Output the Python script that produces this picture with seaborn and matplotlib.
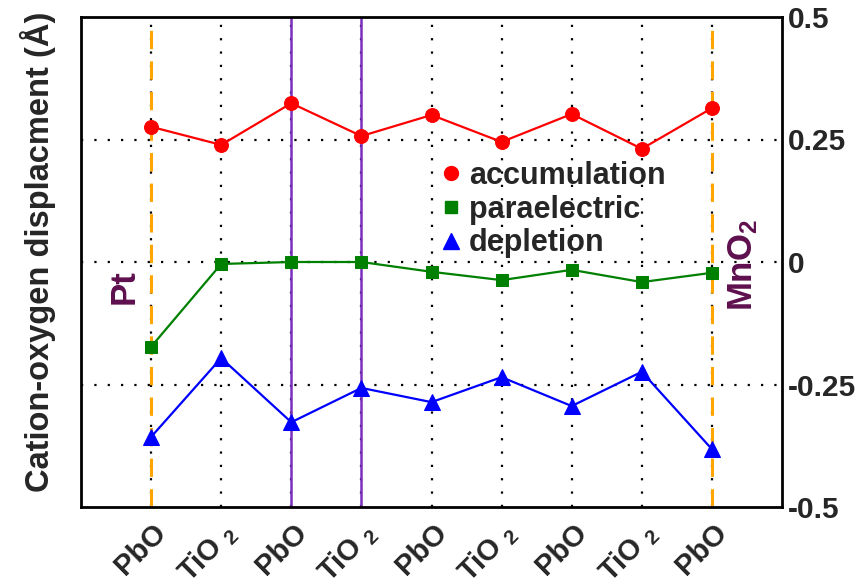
import matplotlib
matplotlib.use("Agg")
import matplotlib.pyplot as plt
import matplotlib.transforms as mtransforms
from matplotlib.lines import Line2D
import seaborn as sns
import pandas as pd

layers = ["PbO", "TiO $_2$", "PbO", "TiO $_2$", "PbO", "TiO $_2$", "PbO", "TiO $_2$", "PbO"]
positions = [1, 2, 3, 4, 5, 6, 7, 8, 9]
accumulation = [0.276, 0.239, 0.324, 0.257, 0.300, 0.245, 0.302, 0.231, 0.314]
paraelectric = [-0.173, -0.004, 0.0, 0.0, -0.020, -0.037, -0.016, -0.041, -0.022]
depletion = [-0.357, -0.196, -0.327, -0.257, -0.286, -0.235, -0.294, -0.224, -0.382]
yticks = [-0.5, -0.25, 0, 0.25, 0.5]
ytick_labels = ["-0.5", "-0.25", "0", "0.25", "0.5"]

sns.set_style("white")
plt.rcParams["font.family"] = ["Liberation Sans", "DejaVu Sans"]
plt.rcParams["font.weight"] = "bold"
plt.rcParams["mathtext.fontset"] = "custom"
plt.rcParams["mathtext.rm"] = "Liberation Sans:bold"
plt.rcParams["mathtext.bf"] = "Liberation Sans:bold"
plt.rcParams["mathtext.default"] = "rm"

fig = plt.figure(figsize=(8.62, 5.86), dpi=100)
ax = fig.add_axes([81 / 862, 1 - 507 / 586, (782 - 81) / 862, (507 - 17) / 586])

# grid lines
for x in positions:
    ax.axvline(x, color="black", lw=1.6, ls=(0, (1, 5)), zorder=1)
    if x in (1, 9):
        ax.axvline(x, color="#FFA500", lw=2.2, ls=(0, (6, 4)), zorder=1.5)
    elif x in (3, 4):
        ax.axvline(x, color="#7B2FBE", lw=1.8, ls="-", zorder=1.5)
for y in [-0.25, 0, 0.25]:
    ax.axhline(y, color="black", lw=1.6, ls=(0, (1, 5)), zorder=1)

series = [
    ("accumulation", accumulation, "#FF0000", "o", 10),
    ("paraelectric", paraelectric, "#008000", "s", 9),
    ("depletion", depletion, "#0000FF", "^", 12),
]
handles = []
for name, vals, col, mk, ms in series:
    df = pd.DataFrame({"pos": positions, "val": vals})
    sns.lineplot(data=df, x="pos", y="val", color=col, marker=mk, markersize=ms,
                 markeredgecolor=col, lw=1.6, ax=ax, zorder=3, legend=False)
    handles.append(Line2D([], [], color=col, marker=mk, ls="none", markersize=ms,
                          markeredgecolor=col, label=name))

ax.set_xlim(0, 10)
ax.set_ylim(-0.5, 0.5)
ax.set_xticks(positions)
ax.set_xticklabels(layers, rotation=45, ha="right", va="center", rotation_mode="anchor",
                   fontsize=21, fontweight="bold")
ax.tick_params(axis="x", length=0, pad=15)
offset = mtransforms.ScaledTranslation(11 / 100, 0, fig.dpi_scale_trans)
for lab in ax.get_xticklabels():
    lab.set_transform(lab.get_transform() + offset)
ax.yaxis.tick_right()
ax.set_yticks(yticks)
ax.set_yticklabels(ytick_labels, fontsize=21.5, fontweight="bold")
ax.tick_params(axis="y", length=0, pad=4)
ax.set_xlabel("")
ax.set_ylabel("Cation-oxygen displacment (Å)", fontsize=23.5, fontweight="bold")
ax.yaxis.set_label_position("left")
ax.yaxis.set_label_coords(-0.035, 0.52)

for s in ax.spines.values():
    s.set_visible(True)
    s.set_color("black")
    s.set_linewidth(2)

ax.text(0.61, -0.05, "Pt", rotation=90, ha="center", va="center", fontsize=25,
        fontweight="bold", color="#5E0F4E")
ax.text(9.45, -0.006, "MnO$_2$", rotation=90, ha="center", va="center", fontsize=25,
        fontweight="bold", color="#5E0F4E")

leg = ax.legend(handles=handles, loc="upper left", bbox_to_anchor=(0.488, 0.731),
                frameon=False, fontsize=22, handletextpad=0.1, labelspacing=0.12,
                handlelength=1.0, borderaxespad=0)
for t in leg.get_texts():
    t.set_fontweight("bold")

fig.savefig("out.png", dpi=100)
